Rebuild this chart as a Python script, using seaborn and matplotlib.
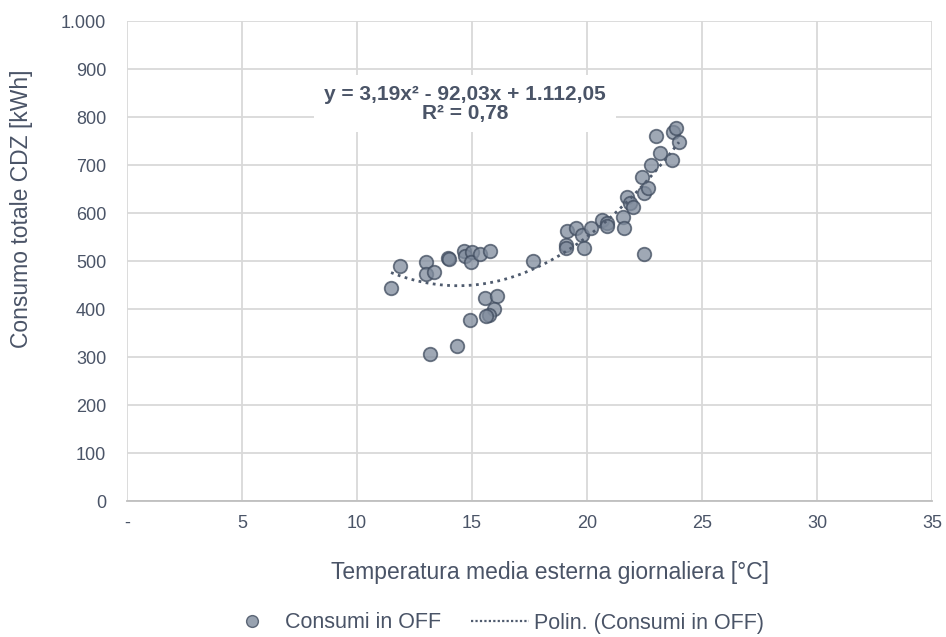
import matplotlib
matplotlib.use("Agg")
import matplotlib.pyplot as plt
import seaborn as sns
import pandas as pd
import numpy as np
from matplotlib.lines import Line2D

temperatura = [11.48, 11.87, 13.0, 13.0, 13.35, 13.96, 14.0, 14.65, 14.7, 15.0, 14.96, 15.35,
               15.78, 15.57, 16.09, 15.96, 15.74, 15.6, 14.9, 14.35, 13.17,
               17.65, 19.09, 19.09, 19.13, 19.52, 19.78, 19.87, 20.17, 20.65, 20.87, 20.87,
               21.57, 21.6, 21.74, 21.87, 22.0, 22.48, 22.4, 22.48, 22.65, 22.78, 23.17,
               23.0, 23.7, 23.74, 23.87, 24.0]
consumo = [444, 490, 498, 473, 477, 506, 504, 521, 510, 519, 498, 515,
           521, 423, 427, 400, 388, 386, 377, 322, 306,
           500, 533, 527, 562, 569, 554, 527, 569, 585, 579, 573,
           592, 569, 633, 621, 612, 515, 675, 641, 652, 700, 725,
           760, 710, 769, 777, 748]

x_ticks = [0, 5, 10, 15, 20, 25, 30, 35]
x_labels = ["-", "5", "10", "15", "20", "25", "30", "35"]
y_ticks = [0, 100, 200, 300, 400, 500, 600, 700, 800, 900, 1000]
y_labels = ["0", "100", "200", "300", "400", "500", "600", "700", "800", "900", "1.000"]

df = pd.DataFrame({"Temperatura": temperatura, "Consumo": consumo})

sns.set_theme(style="white")
plt.rcParams["font.family"] = ["Liberation Sans", "DejaVu Sans"]
txt = "#4a5467"
grid_c = "#d9d9d9"

fig = plt.figure(figsize=(9.46, 6.37), dpi=100)
ax = fig.add_axes([127/946, 1 - 501/637, (932-127)/946, (501-21)/637])

face = "#7f8b9c"
edge = "#3f4b5e"
sns.scatterplot(data=df, x="Temperatura", y="Consumo", ax=ax, s=95,
                color=face, edgecolor=edge, linewidth=1.3, alpha=0.75, zorder=3)
sns.regplot(data=df, x="Temperatura", y="Consumo", ax=ax, order=2, ci=None,
            scatter=False, line_kws=dict(color="#4f5b6e", linestyle=(0, (1, 1.6)),
                                          linewidth=2.0, zorder=4))

ax.set_xlim(0, 35)
ax.set_ylim(0, 1000)
ax.set_xticks(x_ticks)
ax.set_xticklabels(x_labels)
ax.set_yticks(y_ticks)
ax.set_yticklabels(y_labels)
ax.grid(True, color=grid_c, linewidth=1.3, zorder=0)
ax.set_axisbelow(True)
for s in ["top", "right", "left"]:
    ax.spines[s].set_visible(False)
ax.spines["bottom"].set_color("#bfbfbf")
ax.spines["bottom"].set_linewidth(1.3)
ax.tick_params(axis="both", length=0, labelsize=13, colors=txt, pad=10)
ax.tick_params(axis="y", pad=15)
ax.set_xlabel("")
ax.set_ylabel("")

fig.text(550/946, 1 - 573/637, "Temperatura media esterna giornaliera [°C]",
         ha="center", va="center", fontsize=16.5, color=txt)
fig.text(22/946, 1 - 209/637, "Consumo totale CDZ [kWh]", rotation=90,
         ha="center", va="center", fontsize=16.5, color=txt)

ax.text(14.7, 828, "y = 3,19x² - 92,03x + 1.112,05\nR² = 0,78", ha="center", va="center",
        fontsize=15, fontweight="bold", color=txt, linespacing=1.0,
        bbox=dict(facecolor="white", edgecolor="none", pad=7), zorder=5)

handles = [Line2D([], [], marker="o", linestyle="none", markersize=8.5,
                  markerfacecolor=face, markeredgecolor=edge, alpha=0.8),
           Line2D([], [], color="#4f5b6e", linestyle=(0, (1, 1.0)), linewidth=1.6)]
fig.legend(handles, ["Consumi in OFF", "Polin. (Consumi in OFF)"],
           loc="center", bbox_to_anchor=(493/946, 1 - 623/637), ncol=2, frameon=False,
           fontsize=15.5, labelcolor=txt, columnspacing=1.4, handlelength=2.7,
           handletextpad=0.2)

fig.savefig("out.png", dpi=100)
